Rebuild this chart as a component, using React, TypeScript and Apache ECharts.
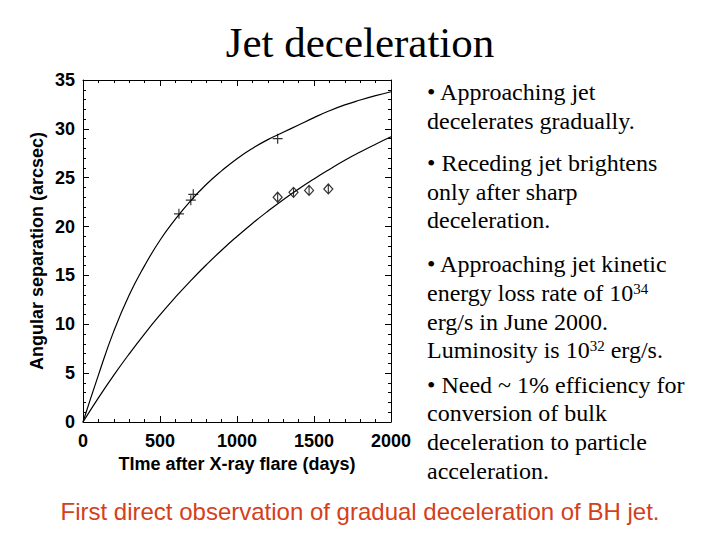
import React, { useEffect, useRef } from "react";
import * as echarts from "echarts";

// Model curves (at 100-day steps)
const days = [0, 100, 200, 300, 400, 500, 600, 700, 800, 900, 1000, 1100, 1200, 1300, 1400, 1500, 1600, 1700, 1800, 1900, 2000];
const approachingFit = [0, 4.8, 9.3, 13.0, 16.0, 18.6, 20.75, 22.65, 24.3, 25.7, 26.95, 28.0, 28.9, 29.65, 30.4, 31.15, 31.85, 32.45, 32.95, 33.4, 33.8];
const recedingFit = [0, 2.47, 4.79, 6.97, 9.03, 10.96, 12.77, 14.47, 16.07, 17.58, 18.99, 20.32, 21.57, 22.75, 23.85, 24.88, 25.85, 26.78, 27.63, 28.43, 29.19];

// Observations
const approachingDays = [623, 700, 716, 1264];
const approachingSep = [21.3, 22.7, 23.3, 29.0];
const recedingDays = [1264, 1367, 1468, 1593];
const recedingSep = [23.0, 23.5, 23.7, 23.85];

const titleText = "Jet deceleration";
const yAxisName = "Angular separation (arcsec)";
const xAxisName = "TIme after X-ray flare (days)";
const footerText = "First direct observation of gradual deceleration of BH jet.";
const bulletLines = [
  "• Approaching jet",
  "decelerates gradually.",
  "• Receding jet brightens",
  "only after sharp",
  "deceleration.",
  "• Approaching jet kinetic",
  "energy loss rate of 10{sup|34}",
  "erg/s in June 2000.",
  "Luminosity is 10{sup|32} erg/s.",
  "• Need ~ 1% efficiency for",
  "conversion of bulk",
  "deceleration to particle",
  "acceleration.",
];
const bulletY = [92, 121, 163, 192, 220, 264, 293, 322, 350, 385, 413, 442, 471];

const PLUS = "path://M0,5 L10,5 M5,0 L5,10";
const DIAMOND_BAR = "path://M5,0 L10,5 L5,10 L0,5 Z M5,0 L5,10";

export default function App() {
  const ref = useRef<HTMLDivElement>(null);
  useEffect(() => {
    if (!ref.current) return;
    const chart = echarts.init(ref.current, undefined, { renderer: "svg" });
    const tickFont = { fontFamily: "Liberation Sans, Arial, sans-serif", fontWeight: "bold" as const, fontSize: 18, color: "#000" };
    const axisCommon = {
      axisLine: { show: true, onZero: false, lineStyle: { color: "#000", width: 1 } },
      axisTick: { show: true, inside: true, length: 6, lineStyle: { color: "#000" } },
      minorTick: { show: true, splitNumber: 5, length: 3, lineStyle: { color: "#000" } },
      splitLine: { show: false },
      minorSplitLine: { show: false },
    };
    const plain = (v: number) => String(v);
    const option: any = {
      animation: false,
      backgroundColor: "#fff",
      grid: { left: 83, right: 329, top: 80, bottom: 118 },
      xAxis: [
        {
          type: "value", min: 0, max: 2000, interval: 500, position: "bottom",
          ...axisCommon,
          axisLabel: { ...tickFont, margin: 10, formatter: plain },
          name: xAxisName, nameLocation: "middle", nameGap: 28,
          nameTextStyle: { ...tickFont },
        },
        {
          type: "value", min: 0, max: 2000, interval: 500, position: "top",
          ...axisCommon,
          axisLabel: { show: false },
        },
      ],
      yAxis: [
        {
          type: "value", min: 0, max: 35, interval: 5, position: "left",
          ...axisCommon,
          axisLabel: { ...tickFont, margin: 8, formatter: plain },
          name: yAxisName, nameLocation: "middle", nameGap: 37,
          nameTextStyle: { ...tickFont },
        },
        {
          type: "value", min: 0, max: 35, interval: 5, position: "right",
          ...axisCommon,
          axisLabel: { show: false },
        },
      ],
      series: [
        {
          type: "line", xAxisIndex: 0, yAxisIndex: 0, showSymbol: false, smooth: true,
          lineStyle: { color: "#000", width: 1.2 },
          data: days.map((d, i) => [d, approachingFit[i]]),
        },
        {
          type: "line", xAxisIndex: 0, yAxisIndex: 0, showSymbol: false, smooth: true,
          lineStyle: { color: "#000", width: 1.2 },
          data: days.map((d, i) => [d, recedingFit[i]]),
        },
        {
          type: "scatter", xAxisIndex: 0, yAxisIndex: 0, symbol: PLUS, symbolSize: 10,
          itemStyle: { color: "rgba(0,0,0,0)", borderColor: "#000", borderWidth: 1.2 },
          data: approachingDays.map((d, i) => [d, approachingSep[i]]),
        },
        {
          type: "scatter", xAxisIndex: 0, yAxisIndex: 0, symbol: DIAMOND_BAR, symbolSize: [9, 10],
          itemStyle: { color: "rgba(0,0,0,0)", borderColor: "#000", borderWidth: 1.2 },
          data: recedingDays.map((d, i) => [d, recedingSep[i]]),
        },
      ],
      graphic: [
        {
          type: "text", left: "center", top: 21,
          style: { text: titleText, fontFamily: "Liberation Serif, Times New Roman, serif", fontSize: 43, fill: "#000" },
        },
        ...bulletLines.map((t, i) => ({
          type: "text", x: 427, y: bulletY[i],
          style: {
            text: t,
            fontFamily: "Liberation Serif, Times New Roman, serif",
            fontSize: 24, fill: "#000",
            textVerticalAlign: "middle", verticalAlign: "middle",
            rich: {
              sup: { fontFamily: "Liberation Serif, Times New Roman, serif", fontSize: 15, fill: "#000", verticalAlign: "top", lineHeight: 14 },
            },
          },
        })),
        {
          type: "text", left: "center", top: 499,
          style: { text: footerText, fontFamily: "Liberation Sans, Arial, sans-serif", fontSize: 24, fill: "#d4401a" },
        },
      ],
    };
    chart.setOption(option);
    return () => chart.dispose();
  }, []);
  return <div ref={ref} style={{ position: "fixed", left: 0, top: 0, width: 720, height: 540 }} />;
}
